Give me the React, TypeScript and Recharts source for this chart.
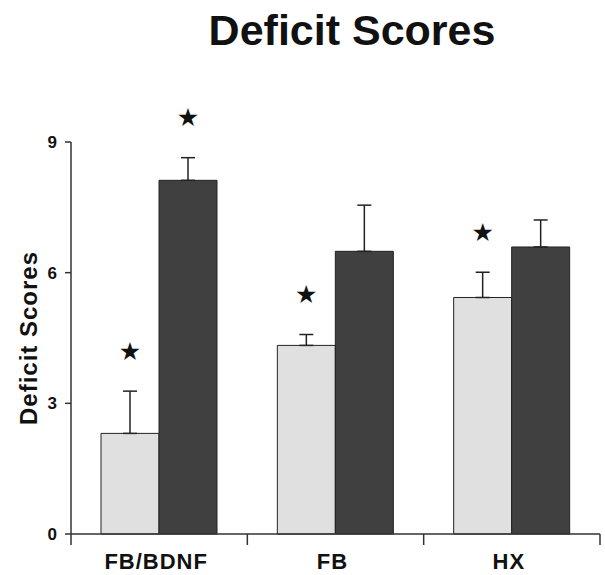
import React from 'react';
import { BarChart, Bar, XAxis, YAxis, ErrorBar, LabelList, Label } from 'recharts';

const groups = ['FB/BDNF', 'FB', 'HX'];
const lightValues = [2.31, 4.33, 5.43];
const lightErrors = [0.97, 0.25, 0.58];
const darkValues = [8.12, 6.49, 6.59];
const darkErrors = [0.52, 1.06, 0.62];
const lightStars = [true, true, true];
const darkStars = [true, false, false];
const yTicks = [0, 3, 6, 9];

const data = groups.map((g, i) => ({
    group: g,
    light: lightValues[i],
    lightErr: [0, lightErrors[i]],
    dark: darkValues[i],
    darkErr: [0, darkErrors[i]],
}));

const FONT = '"Liberation Sans", Arial, sans-serif';
const AXIS = '#333333';

// star drawn above the error bar cap
const starContent = (errors: number[], stars: boolean[]) => (props: any) => {
    const { x, y, width, height, value, index } = props;
    if (!stars[index]) return null;
    const perUnit = height / value;
    const capY = y - errors[index] * perUnit;
    return (
        <text
            x={x + width / 2}
            y={capY - 40}
            textAnchor="middle"
            dominantBaseline="central"
            fontSize={25}
            fontFamily="DejaVu Sans"
            fill="#111"
        >
            ★
        </text>
    );
};

const yLabel = (props: any) => {
    const { viewBox } = props;
    const cx = viewBox.x + 28;
    const cy = viewBox.y + viewBox.height / 2;
    return (
        <text
            x={cx}
            y={cy}
            transform={`rotate(-90, ${cx}, ${cy})`}
            textAnchor="middle"
            dominantBaseline="central"
            fontSize={24}
            letterSpacing={1}
            fontWeight="bold"
            fontFamily={FONT}
            fill="#111"
        >
            Deficit Scores
        </text>
    );
};

// category label plus tick marks on the band edges
const CategoryTick = (props: any) => {
    const { x, y, payload, index } = props;
    const half = payload.offset || 0;
    const axisY = y - 19;
    return (
        <g>
            {index === 0 && (
                <line x1={x - half} x2={x - half} y1={axisY} y2={axisY + 11} stroke={AXIS} strokeWidth={1.5} />
            )}
            <line x1={x + half} x2={x + half} y1={axisY} y2={axisY + 11} stroke={AXIS} strokeWidth={1.5} />
            <text
                x={x - 3}
                y={y}
                dy="0.71em"
                textAnchor="middle"
                fill="#111"
                fontSize={22}
                letterSpacing={1}
                fontWeight="bold"
                fontFamily={FONT}
            >
                {payload.value}
            </text>
        </g>
    );
};

export default function App() {
    return (
        <div style={{ position: 'relative', width: 605, height: 575, background: '#fff' }}>
            <style>{'body{margin:0}'}</style>
            <div
                style={{
                    position: 'absolute',
                    top: 9,
                    left: 352,
                    transform: 'translateX(-50%)',
                    fontFamily: FONT,
                    fontWeight: 'bold',
                    fontSize: 43,
                    lineHeight: '42px',
                    whiteSpace: 'nowrap',
                    color: '#111',
                }}
            >
                Deficit Scores
            </div>
            <BarChart
                width={605}
                height={575}
                data={data}
                margin={{ top: 142, right: 5, bottom: 0, left: 0 }}
                barCategoryGap={30}
                barGap={0}
            >
                <XAxis
                    dataKey="group"
                    height={41}
                    axisLine={{ stroke: AXIS, strokeWidth: 1.5 }}
                    tickLine={false}
                    tickSize={0}
                    tickMargin={19}
                    tick={<CategoryTick />}
                />
                <YAxis
                    width={71}
                    domain={[0, 9]}
                    ticks={yTicks}
                    tickSize={6}
                    tickMargin={8}
                    axisLine={{ stroke: AXIS, strokeWidth: 1.5 }}
                    tickLine={{ stroke: AXIS, strokeWidth: 1.5 }}
                    tick={{ fill: '#111', fontSize: 17, fontWeight: 'bold', fontFamily: FONT }}
                >
                    <Label content={yLabel} />
                </YAxis>
                <Bar dataKey="light" fill="#e0e0e0" stroke="#222" strokeWidth={1} isAnimationActive={false}>
                    <ErrorBar dataKey="lightErr" direction="y" width={7} stroke="#222" strokeWidth={1.5} />
                    <LabelList dataKey="light" content={starContent(lightErrors, lightStars)} />
                </Bar>
                <Bar dataKey="dark" fill="#404040" stroke="#222" strokeWidth={1} isAnimationActive={false}>
                    <ErrorBar dataKey="darkErr" direction="y" width={7} stroke="#222" strokeWidth={1.5} />
                    <LabelList dataKey="dark" content={starContent(darkErrors, darkStars)} />
                </Bar>
            </BarChart>
        </div>
    );
}
